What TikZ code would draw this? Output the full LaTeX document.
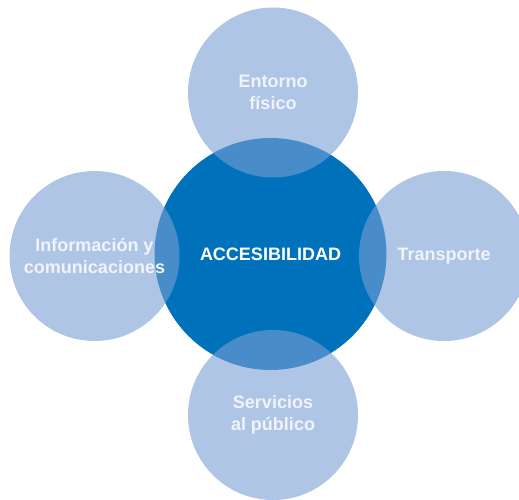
\documentclass[tikz,border=0pt]{standalone}
\usepackage{fontspec}
\setmainfont{Liberation Sans}
\usepackage{xcolor}
\usepackage{tikz}
\definecolor{accdark}{RGB}{0,114,188}
\definecolor{acclight}{RGB}{122,158,212}
\definecolor{acctext}{RGB}{240,244,250}

\begin{document}
\begin{tikzpicture}[
  x=1pt, y=1pt,
  core/.style={
    circle,
    fill=accdark,
    minimum size=232pt,
    inner sep=0pt,
    text=white,
    font=\fontsize{18}{22.5}\selectfont\bfseries,
    align=center
  },
  area/.style={
    circle,
    fill=acclight,
    fill opacity=0.6,
    text opacity=1,
    minimum size=170pt,
    inner sep=0pt,
    text=acctext,
    font=\fontsize{18}{22.5}\selectfont\bfseries,
    align=center
  }
]
\useasboundingbox (0,0) rectangle (519,499);

% Centre
\node[core] (acc) at (270.5,245) {ACCESIBILIDAD};

% Areas
\node[area] (entorno) at (273,406.5) {Entorno\\f\'isico};
\node[area] (info) at (94.5,243) {Informaci\'on y\\comunicaciones};
\node[area] (transp) at (444,243) {Transporte};
\node[area] (serv) at (273,84) {Servicios\\al p\'ublico};
\end{tikzpicture}
\end{document}
